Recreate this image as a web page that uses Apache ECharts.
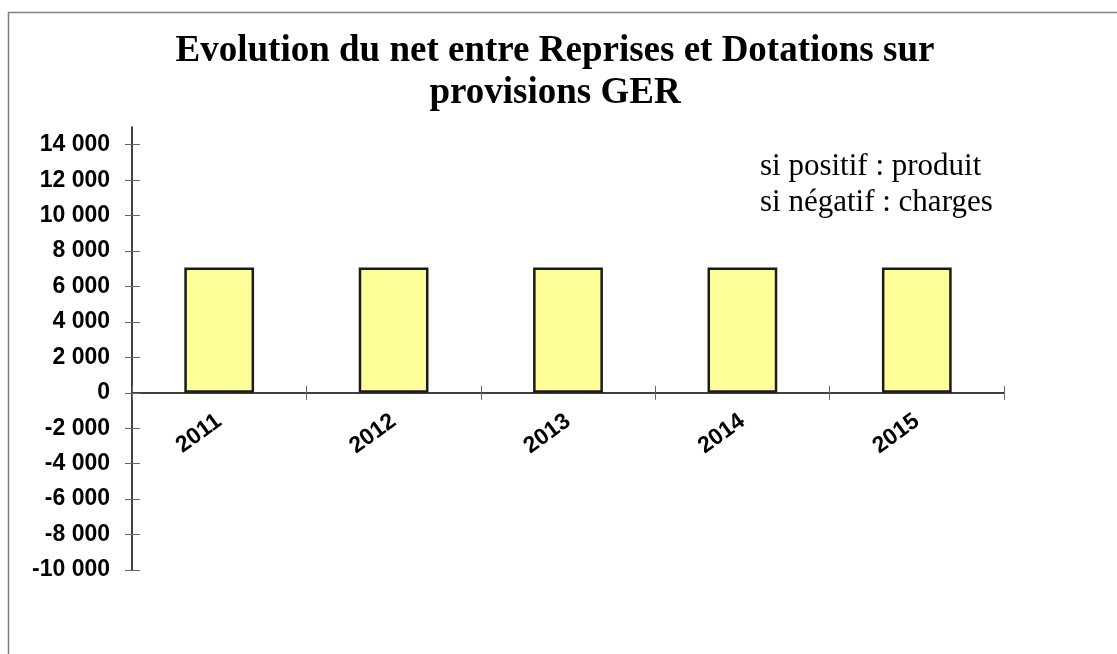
<!DOCTYPE html>
<html>
<head>
<meta charset="utf-8">
<script src="https://cdn.jsdelivr.net/npm/echarts@6/dist/echarts.min.js"></script>
<style>
  html, body { margin: 0; padding: 0; background: #fff; }
  #main { width: 1117px; height: 654px; }
</style>
</head>
<body>
<div id="main"></div>
<script>
  // data
  var years = ['2011', '2012', '2013', '2014', '2015']
  var netValues = [7070, 7070, 7070, 7070, 7070]
  var yTicks = [-10000, -8000, -6000, -4000, -2000, 0, 2000, 4000, 6000, 8000, 10000, 12000, 14000]
  var noteLines = ['si positif : produit', 'si négatif : charges']

  function fmt (v) {
    var s = String(Math.abs(v)).replace(/\B(?=(\d{3})+(?!\d))/g, ' ')
    return (v < 0 ? '-' : '') + s
  }

  var myChart = echarts.init(document.getElementById('main'))

  var labelFont = {
    fontFamily: 'Liberation Sans, Arial, sans-serif',
    fontWeight: 'bold',
    fontSize: 23,
    color: '#000'
  }

  // grid: top 127, bottom 84 -> zero line sits 177.2px above the bottom edge
  var zeroOffset = -177.2

  var option = {
    animation: false,
    title: {
      text: 'Evolution du net entre Reprises et Dotations sur\nprovisions GER',
      left: 550,
      top: 25,
      textAlign: 'center',
      textStyle: {
        fontFamily: 'Liberation Serif, Times New Roman, serif',
        fontWeight: 'bold',
        fontSize: 37,
        lineHeight: 42,
        color: '#000'
      }
    },
    grid: { left: 132, right: 113, top: 127, bottom: 84, containLabel: false },
    xAxis: [{
      type: 'category',
      data: years,
      position: 'bottom',
      offset: zeroOffset,
      axisLine: { onZero: false, lineStyle: { color: '#000', width: 1.5 } },
      axisTick: { show: true, length: 7, lineStyle: { color: '#666' } },
      axisLabel: Object.assign({ rotate: 36, margin: 26, interval: 0 }, labelFont),
      splitLine: { show: false }
    }, {
      type: 'category',
      data: years,
      position: 'bottom',
      offset: zeroOffset,
      axisLine: { show: false, onZero: false },
      axisTick: { show: true, inside: true, length: 7, lineStyle: { color: '#666' } },
      axisLabel: { show: false },
      splitLine: { show: false }
    }],
    yAxis: [{
      type: 'value',
      min: -10000,
      max: 15000,
      interval: 1000,
      position: 'left',
      axisLine: { show: true, onZero: false, lineStyle: { color: '#000', width: 1.5 } },
      axisTick: { show: true, length: 7, customValues: yTicks, lineStyle: { color: '#666' } },
      axisLabel: Object.assign({ margin: 22, customValues: yTicks, formatter: fmt }, labelFont),
      splitLine: { show: false }
    }, {
      type: 'value',
      min: -10000,
      max: 15000,
      interval: 1000,
      position: 'left',
      axisLine: { show: false, onZero: false },
      axisTick: { show: true, inside: true, length: 8, customValues: yTicks, lineStyle: { color: '#666' } },
      axisLabel: { show: false },
      splitLine: { show: false }
    }],
    graphic: [{
      type: 'rect',
      shape: { x: 8.5, y: 12.5, width: 1300, height: 800 },
      style: { fill: null, stroke: '#7f7f7f', lineWidth: 1.5 },
      silent: true
    }, {
      type: 'text',
      left: 760,
      top: 149,
      style: {
        text: noteLines.join('\n'),
        font: '31px "Liberation Serif", "Times New Roman", serif',
        lineHeight: 36,
        fill: '#000'
      }
    }],
    series: [{
      type: 'bar',
      data: netValues,
      xAxisIndex: 0,
      yAxisIndex: 0,
      barWidth: '40%',
      itemStyle: { color: '#FFFF99', borderColor: '#1a1a1a', borderWidth: 2.5 }
    }]
  }

  myChart.setOption(option)
</script>
</body>
</html>
